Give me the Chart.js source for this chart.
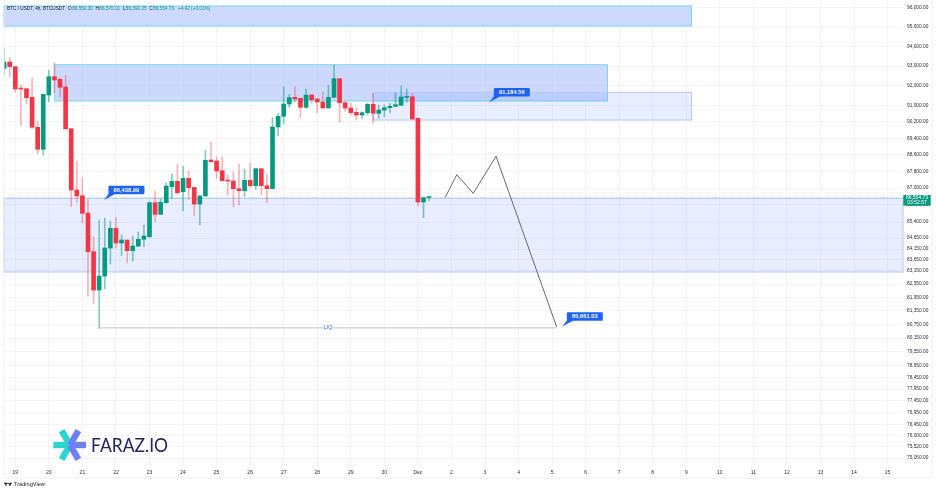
<!DOCTYPE html>
<html>
<head>
<meta charset="utf-8">
<title>BTC / USDT 4h</title>
<script src="https://cdn.jsdelivr.net/npm/chart.js@4"></script>
<style>
  html, body { margin: 0; padding: 0; background: #fff; }
  canvas { display: block; }
</style>
</head>
<body>
<canvas id="btcChart" width="936" height="492"></canvas>
<script>
// 4h candles, first one is Nov 18 16:00
const candleOpen = [92886,93207,92970,91891,91856,91425,89943,88864,91540,92463,92330,91942,89870,86908,86637,85821,84025,82283,82915,84195,85106,84425,84564,84071,84287,84596,84716,86307,85760,86307,87065,87320,86827,87465,87032,86244,86623,88345,88297,87829,87384,87336,86970,86875,87370,87112,87925,87112,86970,89957,90481,91091,91425,91375,90927,91540,91340,91190,90892,91425,92360,91155,90892,90679,90545,90659,91075,90630,90793,90907,90976,91026,91425,91455,90382,86339,86550.30];
const candleHigh = [93856,93427,92970,92027,91906,92395,90249,91575,92800,93171,92395,92532,89870,88263,87494,86467,84716,85494,85587,85447,85634,84795,84564,84749,84934,85260,86354,86860,86481,87226,87671,88152,88056,87829,87032,86656,88830,89233,88504,88504,87623,87782,88152,87897,88214,87945,87925,87671,90411,90626,91956,91575,91956,91375,91841,91590,91340,91706,92042,93054,92360,91240,91125,90927,90709,91125,91625,91041,91041,91125,91655,92007,91841,91625,90382,86590,86570.01];
const candleLow = [92547,92461,91675,90017,91106,89894,88636,88588,91190,91675,91440,89860,86118,86325,85368,82013,81655,80578,82328,83462,84195,83842,83507,83598,84254,84254,84688,85414,85760,86278,86495,86718,85929,86467,85681,85260,86623,88249,87465,87350,86671,86118,86197,86590,87036,86941,86671,86307,86970,89527,90101,90927,91205,90431,90877,91125,90659,90892,90892,91425,90200,90729,90545,90298,90382,90545,90135,90382,90461,90659,90956,91006,91175,90347,86150,85601,86390.25];
const candleClose = [93207,92970,91841,91841,91405,89943,88864,91575,92463,92294,91926,89860,86908,86623,85807,84025,82283,82915,84195,85106,84425,84564,84071,84287,84596,84749,86307,85760,86325,87098,87320,86780,87465,87017,86244,86623,88331,88263,87815,87350,87336,86970,86875,87370,87112,87925,87112,86970,89957,90481,91091,91405,91340,90927,91540,91305,91190,90892,91425,92360,91155,90892,90659,90545,90659,91075,90630,90793,90907,90976,91056,91440,91455,90347,86339,86542,86554.73];

// price axis is hand-scaled in TradingView, so the ticks are uneven
const priceTicks = [96000,95000,94000,93000,92000,91000,90200,89400,88600,87800,87000,86200,85400,84650,84150,83650,83150,82550,81950,81350,80750,80150,79550,78950,78450,77950,77450,76950,76450,76000,75520,75060];
const dayLabels = ['19','20','21','22','23','24','25','26','27','28','29','30','Dec','2','3','4','5','6','7','8','9','10','11','12','13','14','15'];

// zones, x in hours since Nov 19 00:00
const zoneStart = [-8.08, 27.97, 255.8, -8.08];
const zoneEnd = [483.7, 423.6, 483.7, 635];
const zoneHigh = [96105, 93070, 91670, 86510];
const zoneLow = [95058, 91240, 90298, 83100];

// drawn projection
const pathHours = [307.6, 315.8, 327.6, 343.9, 387.3];
const pathPrice = [86561, 87636, 86752, 88524, 80635];

const liqHours = [60.1, 387.3];
const liqPrice = [80600, 80600];

const calloutHours = [63.4, 339.1, 391.3];
const calloutPrice = [86438.99, 91184.56, 80661.03];

const GREEN = '#089981';
const RED = '#f23645';
const GREEN_WICK = 'rgba(8,153,129,0.5)';
const RED_WICK = 'rgba(242,54,69,0.38)';
const GRID = '#f3f4f6';
const FONT = '"Liberation Sans", Arial, sans-serif';

const zoneFill = ['#cdd9fe', 'rgba(176,196,252,0.65)', 'rgba(41,98,255,0.11)', 'rgba(41,98,255,0.11)'];
const zoneBorder = ['#6fd8ea', '#7adcec', '#b7c8fa', '#b7c8fa'];

const candleHours = candleOpen.map((_, i) => (i - 2) * 4);
const isUp = i => candleClose[i] >= candleOpen[i];

const zonesPlugin = {
  id: 'zones',
  beforeDatasetsDraw(chart) {
    const { ctx, scales: { x, y } } = chart;
    ctx.save();
    ctx.lineWidth = 1;
    zoneStart.forEach((start, i) => {
      const left = x.getPixelForValue(start);
      const right = x.getPixelForValue(zoneEnd[i]);
      const top = y.getPixelForValue(zoneHigh[i]);
      const bottom = y.getPixelForValue(zoneLow[i]);
      ctx.fillStyle = zoneFill[i];
      ctx.fillRect(left, top, right - left, bottom - top);
      ctx.strokeStyle = zoneBorder[i];
      ctx.strokeRect(left, top, right - left, bottom - top);
    });
    // last price line
    const lastY = y.getPixelForValue(candleClose[candleClose.length - 1]);
    ctx.setLineDash([1, 1]);
    ctx.strokeStyle = 'rgba(8,153,129,0.25)';
    ctx.beginPath();
    ctx.moveTo(x.left, lastY);
    ctx.lineTo(x.right, lastY);
    ctx.stroke();
    ctx.restore();
  }
};

function drawLegend(ctx) {
  const parts = [
    ['BTC / USDT, 4h, BTCUSDT', '#131722', 3],
    ['O', '#131722', 0.4], ['86,550.30', GREEN, 2.6],
    ['H', '#131722', 0.4], ['86,570.01', GREEN, 2.6],
    ['L', '#131722', 0.4], ['86,390.25', GREEN, 2.6],
    ['C', '#131722', 0.4], ['86,554.73', GREEN, 4],
    ['+4.42 (+0.01%)', GREEN, 0]
  ];
  let px = 7;
  ctx.font = '4.7px ' + FONT;
  ctx.textAlign = 'left';
  ctx.textBaseline = 'middle';
  parts.forEach(p => {
    ctx.fillStyle = p[1];
    ctx.fillText(p[0], px, 9);
    px += ctx.measureText(p[0]).width + p[2];
  });
}

function drawCallouts(ctx, x, y) {
  calloutHours.forEach((h, i) => {
    const tipX = x.getPixelForValue(h);
    const tipY = y.getPixelForValue(calloutPrice[i]);
    const left = tipX + 4.5;
    const top = tipY - 14.2;
    ctx.fillStyle = '#1f63f5';
    ctx.beginPath();
    ctx.moveTo(tipX, tipY);
    ctx.lineTo(left + 1, top + 7);
    ctx.lineTo(left + 7, top + 8);
    ctx.closePath();
    ctx.fill();
    ctx.beginPath();
    ctx.roundRect(left, top, 36, 8.6, 1.2);
    ctx.fill();
    ctx.fillStyle = '#fff';
    ctx.font = 'bold 5.8px ' + FONT;
    ctx.textAlign = 'center';
    ctx.textBaseline = 'middle';
    ctx.fillText(calloutPrice[i].toLocaleString('en-US', { minimumFractionDigits: 2 }), left + 18, top + 4.5);
  });
}

function drawLogo(ctx) {
  const cx = 70, cy = 445;
  ctx.lineWidth = 6.4;
  const arms = [
    [-16.7, 0, '#2bd6cf'], [-8.4, -14.3, '#2bd6cf'], [-8.4, 14.3, '#2bd6cf'],
    [16, 0, '#6f80f6'], [8.4, -14.3, '#6f80f6'], [8.4, 14.3, '#6f80f6']
  ];
  arms.forEach(a => {
    ctx.strokeStyle = a[2];
    ctx.beginPath();
    ctx.moveTo(cx, cy);
    ctx.lineTo(cx + a[0], cy + a[1]);
    ctx.stroke();
  });
  ctx.save();
  ctx.translate(91, 452.3);
  ctx.scale(0.875, 1);
  ctx.fillStyle = '#25255c';
  ctx.font = '20px Lato, ' + FONT;
  ctx.textAlign = 'left';
  ctx.textBaseline = 'alphabetic';
  ctx.fillText('FARAZ.IO', 0, 0);
  ctx.restore();
}

function drawTradingView(ctx) {
  ctx.fillStyle = '#131722';
  ctx.fillRect(4, 482.8, 3.4, 1);
  ctx.fillRect(5.4, 482.8, 1.2, 3);
  ctx.beginPath();
  ctx.arc(8.2, 483.5, 0.7, 0, Math.PI * 2);
  ctx.fill();
  ctx.beginPath();
  ctx.moveTo(9.6, 482.8);
  ctx.lineTo(12, 482.8);
  ctx.lineTo(10.2, 485.8);
  ctx.lineTo(8.8, 485.8);
  ctx.closePath();
  ctx.fill();
  ctx.font = '5.6px ' + FONT;
  ctx.textAlign = 'left';
  ctx.textBaseline = 'middle';
  ctx.fillText('TradingView', 14, 484.5);
}

const overlayPlugin = {
  id: 'overlay',
  afterDraw(chart) {
    const { ctx, scales: { x, y } } = chart;
    ctx.save();

    // panel frame
    ctx.strokeStyle = '#eceef2';
    ctx.lineWidth = 1;
    ctx.beginPath();
    ctx.moveTo(4, 0);
    ctx.lineTo(4, 478);
    ctx.lineTo(932, 478);
    ctx.lineTo(932, 0);
    ctx.stroke();

    // LIQ label sits on its line
    const midX = x.getPixelForValue((liqHours[0] + liqHours[1]) / 2);
    const liqY = y.getPixelForValue(liqPrice[0]);
    ctx.fillStyle = '#fff';
    ctx.fillRect(midX - 5, liqY - 3, 10, 6);
    ctx.fillStyle = '#2962ff';
    ctx.font = '5.5px ' + FONT;
    ctx.textAlign = 'center';
    ctx.textBaseline = 'middle';
    ctx.fillText('LIQ', midX, liqY);

    drawCallouts(ctx, x, y);
    drawLegend(ctx);
    drawLogo(ctx);
    drawTradingView(ctx);

    // last price tag over the axis
    ctx.fillStyle = GREEN;
    ctx.fillRect(903.3, 195, 27.4, 10.7);
    ctx.fillStyle = '#fff';
    ctx.font = '5px ' + FONT;
    ctx.textAlign = 'center';
    ctx.textBaseline = 'middle';
    ctx.fillText('86,554.73', 917, 198);
    ctx.fillText('03:52:57', 917, 202.8);
    ctx.restore();
  }
};

const ctx = document.getElementById('btcChart').getContext('2d');

new Chart(ctx, {
  type: 'bar',
  data: {
    datasets: [
      {
        label: 'Wicks',
        data: candleHours.map((h, i) => ({ x: h, y: [candleLow[i], candleHigh[i]] })),
        backgroundColor: candleHours.map((_, i) => isUp(i) ? GREEN_WICK : RED_WICK),
        barThickness: 1,
        order: 3
      },
      {
        label: 'Bodies',
        data: candleHours.map((h, i) => ({ x: h, y: [candleOpen[i], candleClose[i]] })),
        backgroundColor: candleHours.map((_, i) => isUp(i) ? GREEN : RED),
        barThickness: 4,
        minBarLength: 1,
        order: 2
      },
      {
        type: 'line',
        label: 'LIQ',
        data: liqHours.map((h, i) => ({ x: h, y: liqPrice[i] })),
        borderColor: '#b4b6ba',
        borderWidth: 0.8,
        pointRadius: 0,
        order: 1
      },
      {
        type: 'line',
        label: 'Path',
        data: pathHours.map((h, i) => ({ x: h, y: pathPrice[i] })),
        borderColor: '#444',
        borderWidth: 0.8,
        pointRadius: 0,
        tension: 0,
        order: 0
      }
    ]
  },
  options: {
    responsive: false,
    animation: false,
    events: [],
    grouped: false,
    layout: { padding: { left: 4, right: 4, top: 1, bottom: 14 } },
    plugins: { legend: { display: false }, tooltip: { enabled: false } },
    scales: {
      x: {
        type: 'linear',
        offset: false,
        min: -8.08,
        max: 635,
        afterBuildTicks(scale) {
          scale.ticks = dayLabels.map((_, i) => ({ value: i * 24 }));
        },
        afterFit(scale) {
          scale.height = 12;
          scale.paddingLeft = scale.paddingRight = 0;
        },
        border: { display: false },
        grid: { offset: false, color: GRID, lineWidth: 1, drawTicks: false },
        ticks: {
          autoSkip: false,
          maxRotation: 0,
          padding: 4,
          color: '#2a2e39',
          font: { size: 5, family: FONT },
          callback: (value, index) => dayLabels[index]
        }
      },
      y: {
        type: 'logarithmic',
        position: 'right',
        min: 74737,
        max: 96368,
        afterBuildTicks(scale) {
          scale.ticks = priceTicks.map(v => ({ value: v }));
        },
        afterFit(scale) {
          scale.width = 29;
          scale.paddingTop = scale.paddingBottom = 0;
        },
        border: { display: false },
        grid: { color: GRID, lineWidth: 1, drawTicks: false },
        ticks: {
          autoSkip: false,
          padding: 4,
          color: '#2a2e39',
          font: { size: 4.8, family: FONT },
          callback: value => value.toLocaleString('en-US', { minimumFractionDigits: 2 })
        }
      }
    }
  },
  plugins: [zonesPlugin, overlayPlugin]
});
</script>
</body>
</html>
